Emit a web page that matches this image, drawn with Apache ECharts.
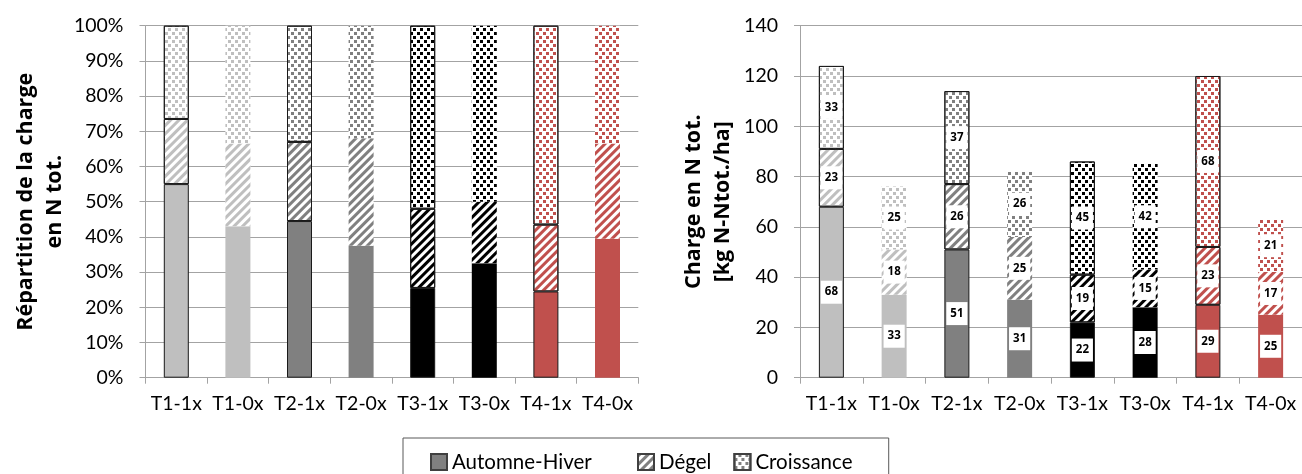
<!DOCTYPE html>
<html><head><meta charset="utf-8">
<script src="https://cdn.jsdelivr.net/npm/echarts@6/dist/echarts.min.js"></script>
<style>html,body{margin:0;padding:0;background:#fff}#c{width:1302px;height:474px}</style>
</head><body><div id="c"></div>
<script>
// ---- data ----
const categories = ['T1-1x','T1-0x','T2-1x','T2-0x','T3-1x','T3-0x','T4-1x','T4-0x'];
const seriesNames = ['Automne-Hiver','Dégel','Croissance'];
// right chart: charge en N tot. [kg N-Ntot./ha]
const automneHiver = [68,33,51,31,22,28,29,25];
const degel        = [23,18,26,25,19,15,23,17];
const croissance   = [33,25,37,26,45,42,68,21];
// left chart: répartition (%)
const pctAutomneHiver = [55,43,44.5,37.5,25.5,32.5,24.5,39.5];
const pctDegel        = [18.5,23.5,22.5,30.5,22.5,17.5,19,27];
const pctCroissance   = [26.5,33.5,33,32,52,50,56.5,33.5];
// axis ranges
const pctAxis = {min:0, max:100, interval:10};
const kgAxis  = {min:0, max:140, interval:20};
const leftTitle  = ['Répartition de la charge','en N tot.'];
const rightTitle = ['Charge en N tot.','[kg N-Ntot./ha]'];

// ---- styles ----
const groupColors = ['#bfbfbf','#bfbfbf','#808080','#808080','#000000','#000000','#c0504d','#c0504d'];
const FONT = 'Lato';
const BOLD_FONT = 'Open Sans';
const AXIS_GRAY = '#a3a3a3';

function stripes(color){
  return {symbol:'rect', symbolSize:1, dashArrayX:[1,0], dashArrayY:[3,3], rotation:-Math.PI/4, color:color};
}
function dots(color){
  return {symbol:'rect', symbolSize:1, dashArrayX:[[3,4],[0,4,3,0]], dashArrayY:[3,1], rotation:0, color:color};
}

function items(values, kind){
  return values.map((v,i)=>{
    const c = groupColors[i];
    const bordered = categories[i].endsWith('1x');
    const st = {borderColor: bordered ? '#1a1a1a' : 'rgba(0,0,0,0)', borderWidth: bordered ? 1 : 0};
    if (kind === 'solid') { st.color = c; }
    else if (kind === 'stripes') { st.color = '#ffffff'; st.decal = stripes(c); }
    else { st.color = '#ffffff'; st.decal = dots(c); }
    return {value: v, itemStyle: st};
  });
}

const kinds = ['solid','stripes','dots'];
function seriesStyle(kind){
  if (kind === 'solid') return {color:'#808080', borderColor:'#404040', borderWidth:1};
  if (kind === 'stripes') return {color:'#ffffff', borderColor:'#404040', borderWidth:1, decal:stripes('#808080')};
  return {color:'#ffffff', borderColor:'#404040', borderWidth:1, decal:dots('#808080')};
}

const leftData = [pctAutomneHiver, pctDegel, pctCroissance];
const rightData = [automneHiver, degel, croissance];

const series = [];
leftData.forEach((arr,k)=>{
  series.push({
    name: seriesNames[k], type:'bar', stack:'pct', xAxisIndex:0, yAxisIndex:0,
    barWidth:25, itemStyle: seriesStyle(kinds[k]), data: items(arr, kinds[k]),
    emphasis:{disabled:true}
  });
});
rightData.forEach((arr,k)=>{
  series.push({
    name: seriesNames[k], type:'bar', stack:'kg', xAxisIndex:1, yAxisIndex:1,
    barWidth:25, itemStyle: seriesStyle(kinds[k]), data: items(arr, kinds[k]),
    emphasis:{disabled:true},
    label:{show:true, position:'inside', formatter:'{c}', color:'#000', fontFamily:BOLD_FONT,
      fontWeight:'bold', fontSize:11.5, lineHeight:12, backgroundColor:'#ffffff', padding:[6,4,5,4]}
  });
});

function xAxis(gi){
  return {gridIndex:gi, type:'category', data:categories,
    axisLine:{show:true, lineStyle:{color:AXIS_GRAY, width:1}},
    axisTick:{show:true, length:6, lineStyle:{color:AXIS_GRAY}},
    axisLabel:{color:'#000', fontFamily:FONT, fontSize:19.5, margin:16, interval:0}};
}
function yAxis(gi, rng, fmt, title, gap){
  return {gridIndex:gi, type:'value', min:rng.min, max:rng.max, interval:rng.interval,
    name: title.join('\n'), nameLocation:'middle', nameRotate:90, nameGap:gap,
    nameTextStyle:{color:'#000', fontFamily:BOLD_FONT, fontWeight:'bold', fontSize:21.5, lineHeight:29},
    axisLine:{show:true, lineStyle:{color:AXIS_GRAY, width:1}},
    axisTick:{show:true, length:6, lineStyle:{color:AXIS_GRAY}},
    splitLine:{show:true, lineStyle:{color:AXIS_GRAY, width:1}},
    axisLabel:{color:'#000', fontFamily:FONT, fontSize:19.5, margin:22, formatter:fmt}};
}

const legendText = {color:'#000', fontFamily:FONT, fontSize:20.5, lineHeight:20};
const option = {
  animation:false,
  backgroundColor:'#ffffff',
  grid:[
    {left:145.5, top:25.7, width:492.8, height:352},
    {left:800, top:25.7, width:512, height:352}
  ],
  xAxis:[xAxis(0), xAxis(1)],
  yAxis:[
    yAxis(0, pctAxis, '{value}%', leftTitle, 76),
    yAxis(1, kgAxis, '{value}', rightTitle, 63)
  ],
  legend:[
    {data:['Automne-Hiver'], left:403, top:438, padding:[13.5,297,20,27], borderColor:'#595959', borderWidth:1,
      icon:'rect', itemWidth:16, itemHeight:16, itemGap:0, textStyle:legendText, selectedMode:false},
    {data:['Dégel','Croissance'], left:637, top:451.5, padding:0, itemGap:22, align:'left',
      icon:'rect', itemWidth:16, itemHeight:16, textStyle:legendText, selectedMode:false}
  ],
  series: series
};
const chart = echarts.init(document.getElementById('c'), null, {renderer:'canvas'});
chart.setOption(option);
</script></body></html>
